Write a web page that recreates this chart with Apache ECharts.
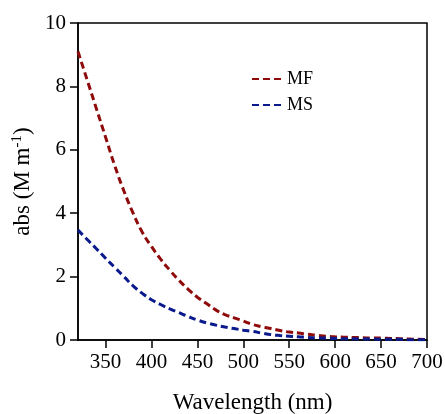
<!DOCTYPE html>
<html>
<head>
<meta charset="utf-8">
<script src="https://cdn.jsdelivr.net/npm/echarts@6/dist/echarts.min.js"></script>
<style>
  html, body { margin: 0; padding: 0; background: #fff; }
  #main { width: 445px; height: 414px; }
</style>
</head>
<body>
<div id="main"></div>
<script>
// wavelength (nm), 10 nm steps
var wavelength = [320,330,340,350,360,370,380,390,400,410,420,430,440,450,460,470,480,490,500,510,
                  520,530,540,550,560,570,580,590,600,610,620,630,640,650,660,670,680,690,700];
var mfValues = [9.1,8.2,7.3,6.4,5.5,4.7,4.0,3.4,2.95,2.55,2.2,1.88,1.6,1.35,1.15,0.95,0.8,0.7,0.6,0.49,
                0.42,0.36,0.3,0.25,0.22,0.18,0.15,0.12,0.1,0.09,0.08,0.07,0.06,0.06,0.05,0.04,0.03,0.02,0.01];
var msValues = [3.47,3.17,2.88,2.58,2.29,2.0,1.71,1.47,1.27,1.12,0.98,0.86,0.74,0.63,0.54,0.47,0.41,0.36,0.31,0.27,
                0.22,0.17,0.14,0.12,0.1,0.08,0.07,0.06,0.05,0.04,0.04,0.03,0.03,0.02,0.02,0.02,0.01,0.01,0.01];
var xTicks = [350,400,450,500,550,600,650,700];

function pairs(xs, ys){
    var out = [];
    for (var i = 0; i < xs.length; i++) out.push([xs[i], ys[i]]);
    return out;
}

var myChart = echarts.init(document.getElementById('main'));
var font = 'Liberation Serif';
var option = {
    animation: false,
    textStyle: { fontFamily: font, color: '#000' },
    grid: {
        left: 78, right: 18, top: 23, bottom: 74,
        outerBoundsMode: 'none',
        containLabel: false,
        show: true, borderColor: '#000', borderWidth: 1.5
    },
    legend: {
        orient: 'vertical',
        left: 251, top: 70,
        padding: 0,
        itemWidth: 31, itemHeight: 14, itemGap: 8,
        itemStyle: { opacity: 0 },
        textStyle: { fontFamily: font, fontSize: 18, color: '#000', padding: [0, 0, 0, -1] },
        data: ['MF', 'MS']
    },
    xAxis: {
        type: 'value',
        min: 320, max: 700,
        name: 'Wavelength (nm)',
        nameLocation: 'middle',
        nameGap: 51,
        nameTextStyle: { fontFamily: font, fontSize: 23, color: '#000' },
        axisLine: { lineStyle: { color: '#000', width: 1.5 } },
        axisTick: { show: true, inside: false, length: 8, customValues: xTicks, lineStyle: { color: '#000', width: 1.5 } },
        axisLabel: { customValues: xTicks, fontFamily: font, fontSize: 21, color: '#000', margin: 12 },
        splitLine: { show: false }
    },
    yAxis: {
        type: 'value',
        min: 0, max: 10, interval: 2,
        name: '{n|abs (M m}{s|-1}{n|)}',
        nameLocation: 'middle',
        nameGap: 41,
        nameTextStyle: {
            rich: {
                n: { fontFamily: font, fontSize: 23, color: '#000' },
                s: { fontFamily: font, fontSize: 15, color: '#000', verticalAlign: 'bottom', padding: [0, 0, 11, 0] }
            }
        },
        axisLine: { show: true, lineStyle: { color: '#000', width: 1.5 } },
        axisTick: { show: true, inside: false, length: 8, lineStyle: { color: '#000', width: 1.5 } },
        axisLabel: { fontFamily: font, fontSize: 21, color: '#000', margin: 12 },
        splitLine: { show: false }
    },
    series: [
        {
            name: 'MF',
            type: 'line',
            smooth: true,
            symbol: 'none',
            color: '#8f0a0a',
            lineStyle: { color: '#8f0a0a', width: 3, type: [7, 4] },
            data: pairs(wavelength, mfValues)
        },
        {
            name: 'MS',
            type: 'line',
            smooth: true,
            symbol: 'none',
            color: '#0a1a8c',
            lineStyle: { color: '#0a1a8c', width: 3, type: [7, 4] },
            data: pairs(wavelength, msValues)
        }
    ]
};
myChart.setOption(option);
</script>
</body>
</html>
